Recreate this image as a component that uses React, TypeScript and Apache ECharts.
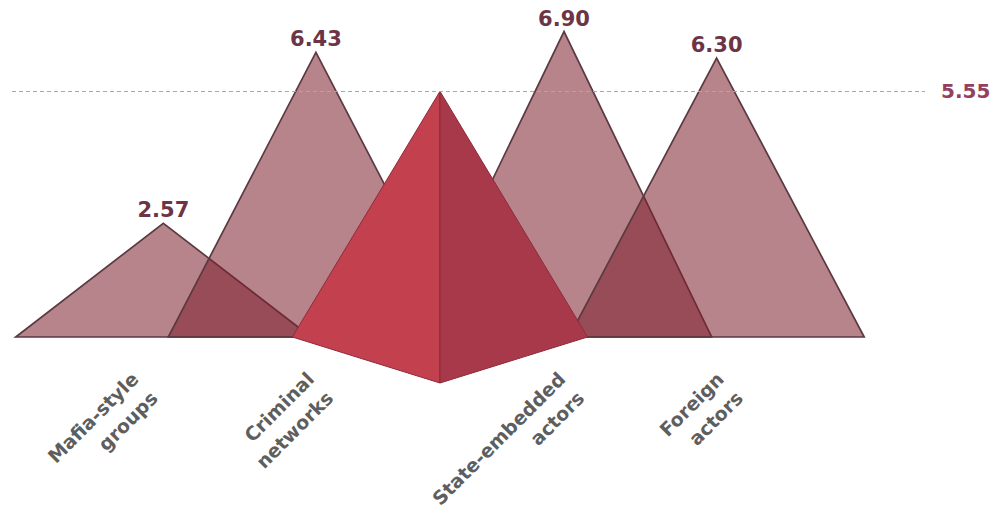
import React, { useEffect, useRef } from "react";
import * as echarts from "echarts";

// Actor types and their scores
const categories = [
  "Mafia-style\ngroups",
  "Criminal\nnetworks",
  "State-embedded\nactors",
  "Foreign\nactors",
];
const scores = [2.57, 6.43, 6.9, 6.3];
const averageScore = 5.55;
const averageLabel = "5.55";

// Horizontal slots (x-axis units) for each peak and for the average pyramid
const peakSlots = [0, 1.23, 3.23, 4.46];
const averageSlot = 2.23;

// Horizontal nudge (px) of each rotated category label's end from its peak
const labelNudges = [-38, -15, -12, -6];

// Half of a peak's base width, in x-axis units
const HALF_BASE = 1.19;
// Depth of the pyramid's front corner below the baseline, in pixels
const PYRAMID_DEPTH = 46;

const FONT = "'DejaVu Sans', sans-serif";

export default function App() {
  const ref = useRef<HTMLDivElement>(null);

  useEffect(() => {
    if (!ref.current) return;
    const chart = echarts.init(ref.current, undefined, { renderer: "svg" });

    const peakItem = (params: any, api: any) => {
      const x = api.value(0) as number;
      const v = api.value(1) as number;
      const apex = api.coord([x, v]);
      const left = api.coord([x - HALF_BASE, 0]);
      const right = api.coord([x + HALF_BASE, 0]);
      return {
        type: "group",
        children: [
          {
            type: "polygon",
            shape: { points: [left, apex, right] },
            style: {
              fill: "rgba(126,31,46,0.55)",
              stroke: "#5b3a42",
              lineWidth: 1.7,
              lineJoin: "miter",
            },
          },
          {
            type: "text",
            x: apex[0],
            y: apex[1] - 13,
            style: {
              text: v.toFixed(2),
              fill: "#6d3445",
              font: `bold 21px ${FONT}`,
              align: "center",
              verticalAlign: "middle",
            },
          },
          {
            type: "text",
            x: apex[0] + labelNudges[params.dataIndex],
            y: left[1] + 29,
            rotation: Math.PI / 4,
            style: {
              text: categories[params.dataIndex],
              fill: "#5e5e5e",
              font: `bold 19px ${FONT}`,
              lineHeight: 27,
              align: "right",
              verticalAlign: "top",
            },
          },
        ],
      };
    };

    const pyramidItem = (_params: any, api: any) => {
      const x = api.value(0) as number;
      const v = api.value(1) as number;
      const apex = api.coord([x, v]);
      const left = api.coord([x - HALF_BASE, 0]);
      const right = api.coord([x + HALF_BASE, 0]);
      const front = [apex[0], left[1] + PYRAMID_DEPTH];
      return {
        type: "group",
        children: [
          {
            type: "polygon",
            shape: { points: [left, apex, front] },
            style: { fill: "#c3414f", stroke: "#8d2b3a", lineWidth: 1 },
          },
          {
            type: "polygon",
            shape: { points: [front, apex, right] },
            style: { fill: "#a8394a", stroke: "#8d2b3a", lineWidth: 1 },
          },
        ],
      };
    };

    chart.setOption({
      animation: false,
      grid: { left: 12, right: 72, top: 5, bottom: 171 },
      xAxis: { type: "value", min: -1.22, max: 6.14, show: false },
      yAxis: { type: "value", min: 0, max: 7.5, show: false },
      series: [
        {
          type: "custom",
          name: "Score",
          renderItem: peakItem,
          data: scores.map((s, i) => [peakSlots[i], s]),
          z: 2,
        },
        {
          type: "custom",
          name: "Average",
          renderItem: pyramidItem,
          data: [[averageSlot, averageScore]],
          z: 3,
          markLine: {
            silent: true,
            symbol: "none",
            lineStyle: { type: [4, 3], color: "#a8a8a8", width: 1 },
            label: {
              show: true,
              position: "end",
              distance: 16,
              formatter: averageLabel,
              color: "#94415d",
              fontFamily: FONT,
              fontWeight: "bold",
              fontSize: 20,
            },
            data: [{ yAxis: averageScore }],
          },
        },
      ],
    });

    return () => chart.dispose();
  }, []);

  return (
    <div
      ref={ref}
      style={{ position: "fixed", left: 0, top: 0, width: 997, height: 508, background: "#fff" }}
    />
  );
}
